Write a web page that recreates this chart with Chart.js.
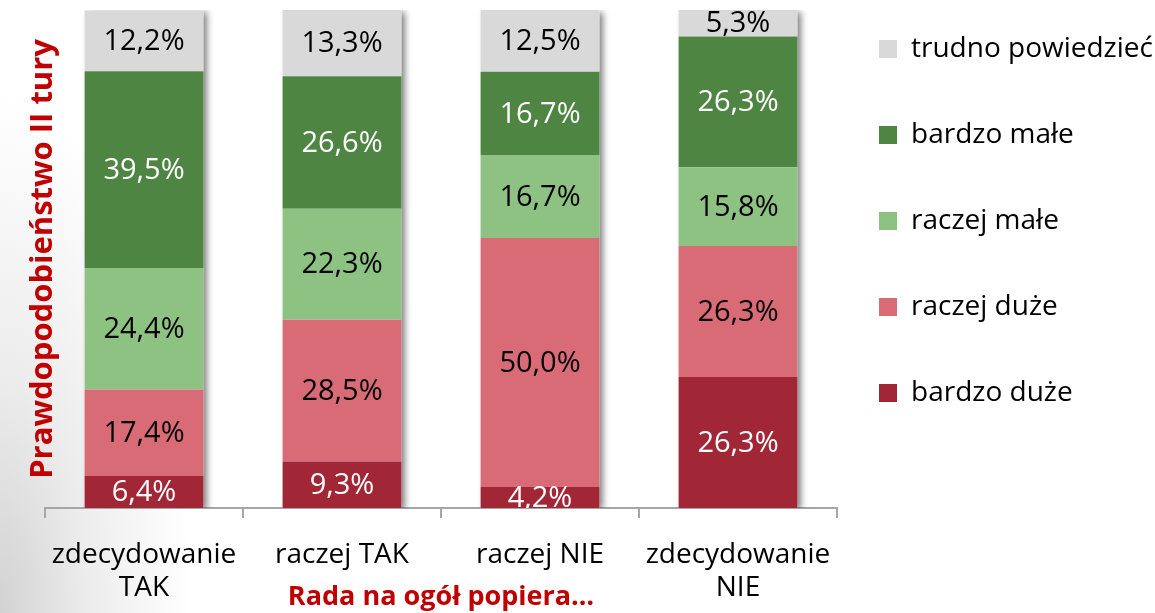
<!DOCTYPE html>
<html lang="pl">
<head>
<meta charset="utf-8">
<title>Prawdopodobieństwo II tury</title>
<script src="https://cdn.jsdelivr.net/npm/chart.js@4/dist/chart.umd.min.js"></script>
<style>
    html, body {
        margin: 0;
        padding: 0;
    }
    body {
        background: radial-gradient(ellipse 190px 520px at 0 100%, #d2d2d2 0%, #ececec 45%, #ffffff 100%);
        background-color: #fff;
    }
    #wrap {
        width: 1155px;
        height: 613px;
        position: relative;
    }
</style>
</head>
<body>
<div id="wrap"><canvas id="tura-chart"></canvas></div>
<script>
// categories: answer to "Rada na ogół popiera…"
const categories = [
    ["zdecydowanie", "TAK"],
    "raczej TAK",
    "raczej NIE",
    ["zdecydowanie", "NIE"]
];

// series, stacked from the bottom up
const bardzoDuze = [6.4, 9.3, 4.2, 26.3];
const raczejDuze = [17.4, 28.5, 50.0, 26.3];
const raczejMale = [24.4, 22.3, 16.7, 15.8];
const bardzoMale = [39.5, 26.6, 16.7, 26.3];
const trudno = [12.2, 13.3, 12.5, 5.3];

const FONT = '"Open Sans", "Noto Sans", sans-serif';

const series = [
    { label: "bardzo duże", data: bardzoDuze, color: "#A12737", text: "#ffffff" },
    { label: "raczej duże", data: raczejDuze, color: "#D96B76", text: "#000000" },
    { label: "raczej małe", data: raczejMale, color: "#8EC283", text: "#000000" },
    { label: "bardzo małe", data: bardzoMale, color: "#4E8542", text: "#ffffff" },
    { label: "trudno powiedzieć", data: trudno, color: "#D9D9D9", text: "#000000" }
];

const fmtPercent = (v) => v.toFixed(1).replace(".", ",") + "%";

// soft drop shadow behind every whole stack
const stackShadow = {
    id: "stackShadow",
    beforeDatasetsDraw(chart) {
        const { ctx, chartArea } = chart;
        const first = chart.getDatasetMeta(0).data;
        const last = chart.getDatasetMeta(chart.data.datasets.length - 1).data;
        ctx.save();
        ctx.beginPath();
        ctx.rect(chartArea.left, chartArea.top, chartArea.width + 20, chartArea.height);
        ctx.clip();
        ctx.shadowColor = "rgba(0, 0, 0, 0.55)";
        ctx.shadowBlur = 7;
        ctx.shadowOffsetX = 4;
        ctx.shadowOffsetY = 2;
        ctx.fillStyle = "#ffffff";
        first.forEach((bar, j) => {
            const bottom = bar.base;
            const top = last[j].y;
            ctx.fillRect(bar.x - bar.width / 2, top, bar.width, bottom - top);
        });
        ctx.restore();
    }
};

// value labels in the middle of each segment
const segmentLabels = {
    id: "segmentLabels",
    afterDatasetsDraw(chart) {
        const { ctx, chartArea } = chart;
        ctx.save();
        ctx.beginPath();
        ctx.rect(chartArea.left, chartArea.top, chartArea.width, chartArea.height);
        ctx.clip();
        ctx.font = "29px " + FONT;
        ctx.textAlign = "center";
        ctx.textBaseline = "middle";
        chart.data.datasets.forEach((ds, i) => {
            chart.getDatasetMeta(i).data.forEach((bar, j) => {
                ctx.fillStyle = series[i].text;
                ctx.fillText(fmtPercent(ds.data[j]), bar.x, (bar.y + bar.base) / 2 + 1);
            });
        });
        ctx.restore();
    }
};

// move the legend column to where it sits next to the plot
const legendPlace = {
    id: "legendPlace",
    afterLayout(chart) {
        const lg = chart.legend;
        const pad = lg.options.labels.padding;
        lg.left = chart.chartArea.right + 42 - pad;
        lg.top = 35 - pad;
    }
};

const ctx = document.getElementById("tura-chart").getContext("2d");
const myChart = new Chart(ctx, {
    type: "bar",
    data: {
        labels: categories,
        datasets: series.map((s) => ({
            label: s.label,
            data: s.data,
            backgroundColor: s.color,
            borderWidth: 0,
            barPercentage: 0.6,
            categoryPercentage: 1.0
        }))
    },
    options: {
        responsive: true,
        maintainAspectRatio: false,
        animation: false,
        layout: {
            padding: { top: 10, left: 0, right: 0, bottom: 0 }
        },
        plugins: {
            tooltip: { enabled: false },
            legend: {
                position: "right",
                align: "start",
                reverse: true,
                maxWidth: 318,
                labels: {
                    boxWidth: 18,
                    boxHeight: 18,
                    padding: 58,
                    color: "#000000",
                    font: { family: FONT, size: 28 }
                }
            }
        },
        scales: {
            x: {
                stacked: true,
                grid: {
                    display: true,
                    offset: true,
                    drawOnChartArea: false,
                    drawTicks: true,
                    tickLength: 10,
                    color: "#a6a6a6",
                    lineWidth: 2
                },
                border: { display: true, color: "#a6a6a6", width: 2 },
                ticks: {
                    color: "#000000",
                    padding: 20.5,
                    maxRotation: 0,
                    autoSkip: false,
                    font: { family: FONT, size: 28, lineHeight: 1.18 }
                },
                title: {
                    display: true,
                    text: "Rada na ogół popiera…",
                    color: "#C00000",
                    padding: { top: -43.4, bottom: -1 },
                    font: { family: FONT, size: 27, weight: "bold", lineHeight: 1.2 }
                }
            },
            y: {
                stacked: true,
                min: 0,
                max: 100,
                grid: { display: false, drawTicks: false },
                border: { display: false },
                ticks: { display: false },
                title: {
                    display: true,
                    text: "Prawdopodobieństwo II tury",
                    color: "#C00000",
                    padding: { top: 25, bottom: -17.2 },
                    font: { family: FONT, size: 31, weight: "bold", lineHeight: 1.2 }
                }
            }
        }
    },
    plugins: [stackShadow, segmentLabels, legendPlace]
});
</script>
</body>
</html>
